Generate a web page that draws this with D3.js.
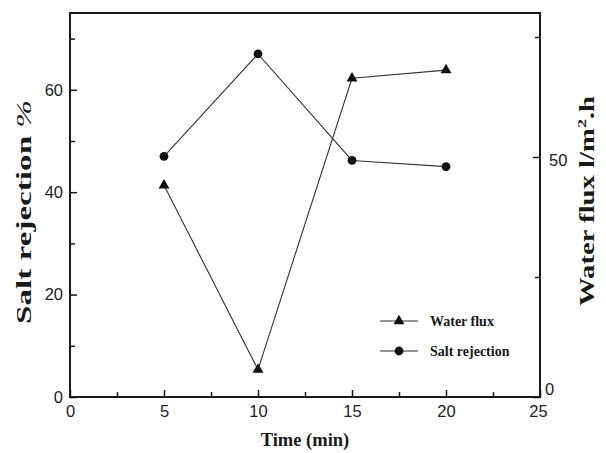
<!DOCTYPE html>
<html>
<head>
<meta charset="utf-8">
<script src="https://cdn.jsdelivr.net/npm/d3@7"></script>
<style>
  html, body { margin: 0; padding: 0; background: #fff; }
  svg { display: block; }
  .tick text { font-family: "Liberation Sans", Arial, sans-serif; font-size: 16.5px; fill: #222; }
</style>
</head>
<body>
<svg id="chart" width="606" height="453"></svg>
<script>
// Measurements over time
const times = [5, 10, 15, 20];
const saltRejection = [47, 67, 46.2, 45];      // %
const waterFlux = [44.1, 5.7, 66.4, 68.1];       // l/m2.h

const xTicks = [0, 5, 10, 15, 20, 25];
const xMinor = [2.5, 7.5, 12.5, 17.5, 22.5];
const leftTicks = [0, 20, 40, 60];
const leftMinor = [10, 30, 50, 70];
const rightTicks = [0, 50];
const rightMinor = [25, 75];

const svg = d3.select("#chart");
const m = { left: 70, right: 540, top: 13, bottom: 397 };
const ink = "#1a1a1a";
const serif = "'Liberation Serif', 'Times New Roman', serif";

const x = d3.scaleLinear().domain([0, 25]).range([m.left, m.right]);
const yL = d3.scaleLinear().domain([0, 75]).range([m.bottom, m.top]);
const yR = d3.scaleLinear().domain([0, 80]).range([m.bottom, m.top]);

// Frame
svg.append("rect")
  .attr("x", m.left).attr("y", m.top)
  .attr("width", m.right - m.left).attr("height", m.bottom - m.top)
  .attr("fill", "none").attr("stroke", ink).attr("stroke-width", 2);

function styleAxis(g) {
  g.select(".domain").remove();
  g.selectAll(".tick line").attr("stroke", ink).attr("stroke-width", 1.5);
}

// Bottom axis (ticks pointing inward)
svg.append("g").attr("transform", `translate(0,${m.bottom})`)
  .call(d3.axisBottom(x).tickValues(xTicks).tickSize(-7).tickPadding(8).tickFormat(d3.format("d")))
  .call(styleAxis)
  .call(g => g.selectAll(".tick").filter(d => d === 25).select("text").attr("dx", -2));
svg.append("g").attr("transform", `translate(0,${m.bottom})`)
  .call(d3.axisBottom(x).tickValues(xMinor).tickSize(-5).tickFormat(""))
  .call(styleAxis);

// Left axis
svg.append("g").attr("transform", `translate(${m.left},0)`)
  .call(d3.axisLeft(yL).tickValues(leftTicks).tickSize(-7).tickPadding(7).tickFormat(d3.format("d")))
  .call(styleAxis);
svg.append("g").attr("transform", `translate(${m.left},0)`)
  .call(d3.axisLeft(yL).tickValues(leftMinor).tickSize(-5).tickFormat(""))
  .call(styleAxis);

// Right axis
svg.append("g").attr("transform", `translate(${m.right},0)`)
  .call(d3.axisRight(yR).tickValues(rightTicks).tickSize(-7).tickPadding(9).tickFormat(d3.format("d")))
  .call(styleAxis)
  .call(g => g.selectAll(".tick").filter(d => d === 0).select("text").attr("dy", "-0.15em").attr("dx", -4))
  .call(g => g.selectAll(".tick").filter(d => d === 50).select("text").attr("dy", "0.5em"));
svg.append("g").attr("transform", `translate(${m.right},0)`)
  .call(d3.axisRight(yR).tickValues(rightMinor).tickSize(-5).tickFormat(""))
  .call(styleAxis);

// Series lines
const lineSalt = d3.line().x((d, i) => x(times[i])).y(d => yL(d));
const lineFlux = d3.line().x((d, i) => x(times[i])).y(d => yR(d));

svg.append("path").datum(saltRejection).attr("d", lineSalt)
  .attr("fill", "none").attr("stroke", "#333").attr("stroke-width", 1.1);
svg.append("path").datum(waterFlux).attr("d", lineFlux)
  .attr("fill", "none").attr("stroke", "#333").attr("stroke-width", 1.1);

const tri = d3.symbol().type(d3.symbolTriangle).size(52);

svg.append("g").selectAll("circle").data(saltRejection).join("circle")
  .attr("cx", (d, i) => x(times[i])).attr("cy", d => yL(d)).attr("r", 4.4).attr("fill", "#111");
svg.append("g").selectAll("path").data(waterFlux).join("path")
  .attr("d", tri)
  .attr("transform", (d, i) => `translate(${x(times[i])},${yR(d)})`)
  .attr("fill", "#111");

// Legend
const legend = svg.append("g");
const legendItems = [
  { label: "Water flux", marker: "tri", y: 321 },
  { label: "Salt rejection", marker: "circle", y: 351 }
];
legendItems.forEach(it => {
  legend.append("line").attr("x1", 380).attr("x2", 418).attr("y1", it.y).attr("y2", it.y)
    .attr("stroke", "#333").attr("stroke-width", 1.1);
  if (it.marker === "tri") {
    legend.append("path").attr("d", tri).attr("transform", `translate(399,${it.y})`).attr("fill", "#111");
  } else {
    legend.append("circle").attr("cx", 399).attr("cy", it.y).attr("r", 4.4).attr("fill", "#111");
  }
  legend.append("text").attr("x", 430).attr("y", it.y + 5)
    .attr("font-family", serif)
    .attr("font-weight", "bold").attr("font-size", 14).attr("fill", ink)
    .text(it.label);
});

// Axis titles
svg.append("text").attr("x", x(12.5)).attr("y", 446).attr("text-anchor", "middle")
  .attr("font-family", serif).attr("font-weight", "bold").attr("font-size", 18.5).attr("fill", ink)
  .text("Time (min)");

// Vertical titles, fitted along their length to a given span
function verticalTitle(cx, cy, span, build) {
  const t = svg.append("text")
    .attr("text-anchor", "middle")
    .attr("font-family", serif).attr("font-weight", "bold").attr("font-size", 20).attr("fill", ink);
  build(t);
  const len = t.node().getComputedTextLength();
  t.attr("transform", `translate(${cx},${cy}) rotate(-90) scale(${span / len},1)`);
  return t;
}

verticalTitle(31, 212, 224, t => {
  t.append("tspan").text("Salt rejection ");
  t.append("tspan").attr("font-style", "italic").attr("font-weight", "normal").text("%");
});

verticalTitle(594, 201, 210, t => {
  t.append("tspan").text("Water flux  l/m");
  t.append("tspan").attr("font-size", 12.5).attr("dy", -8).text("2");
  t.append("tspan").attr("dy", 8).text(".h");
});
</script>
</body>
</html>
